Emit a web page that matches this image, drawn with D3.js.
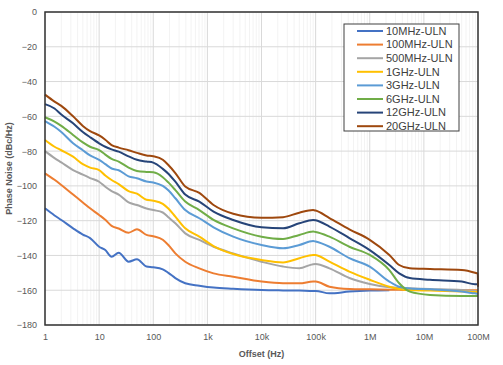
<!DOCTYPE html>
<html><head><meta charset="utf-8">
<script src="https://cdn.jsdelivr.net/npm/d3@7"></script>
<style>body{margin:0;background:#fff}svg{display:block}</style>
</head><body>
<script>
const offsets = [1,1.5,2,3.3,5,6.8,10,13,17,23,35,50,75,100,150,190,256,390,710,1300,3000,10000,25000,50000,90000,100000,180000,420000,1e6,2.3e6,3.5e6,5.5e6,1.3e7,5e7,8.8e7,9.9e7,1e8];
const seriesNames = ["10MHz-ULN","100MHz-ULN","500MHz-ULN","1GHz-ULN","3GHz-ULN","6GHz-ULN","12GHz-ULN","20GHz-ULN"];
const colors = ["#4472C4","#ED7D31","#A5A5A5","#FFC000","#5B9BD5","#70AD47","#264478","#9E480E"];
const s10M  = [-112.9,-117,-119.6,-124.4,-128,-130,-135,-136.9,-140.7,-138.4,-143.6,-142.2,-146.4,-146.8,-148,-150,-153,-156,-157.4,-158.5,-159.2,-159.9,-160.1,-160.2,-160.4,-160.4,-161.8,-160.8,-160.2,-160,null,null,null,null,null,null,null];
const s100M = [-92.8,-96.5,-99.5,-105,-109.5,-112.9,-116.7,-119.5,-123,-124.5,-126.9,-125,-128.2,-129,-131,-134,-138.8,-143.6,-147.4,-150.3,-152.2,-155,-156,-156,-155,-155,-158,-159.3,-159.5,-159.7,-159.8,-159.9,-159.9,-160,-160,-160,-160];
const s500M = [-80,-84,-86.5,-90.9,-93.5,-95.5,-97.6,-100.5,-103,-105,-109.5,-111,-113,-113.9,-115.3,-118,-121.5,-127.3,-131.1,-135,-138.8,-143.6,-146.4,-147.4,-145,-144.9,-147.4,-153,-156.4,-158.3,-158.7,-158.9,-159.3,-159.9,-160.5,-160.8,-160.8];
const s1G   = [-73.6,-77.5,-79.5,-83.2,-87.5,-89.5,-90.9,-94,-96.6,-99,-103,-104.5,-108,-108.5,-110.3,-113,-117.7,-124.4,-129.2,-134.6,-139.2,-142.6,-144,-141.6,-139.7,-139.8,-143.6,-149.3,-154,-158,-159.3,-159.9,-160.2,-160.8,-161,-161,-161];
const s3G   = [-62.7,-66,-69,-75.5,-79.5,-82.5,-85,-87.5,-90,-91,-94.5,-95.6,-97.5,-98,-100,-102.5,-107.1,-113.9,-118.6,-123.8,-129.2,-134,-135.9,-134,-131.7,-132,-135,-141.6,-146.4,-155,-158,-159,-159.5,-160.8,-161.8,-162,-162];
const s6G   = [-60.5,-63,-65.5,-70.7,-75,-77.5,-79.4,-82,-84.5,-86,-89.5,-91.4,-92,-92.2,-95,-98,-102.4,-109,-113.9,-119.6,-124.4,-129.2,-130.5,-128.2,-126.3,-126.5,-129.2,-135,-139.7,-148.4,-156,-160.8,-162.7,-163.3,-163.3,-163.3,-163.3];
const s12G  = [-53,-55.5,-59,-64,-69,-72,-75.5,-77.5,-79,-80.3,-83,-85,-86,-86.6,-90.2,-93,-97.6,-105,-109,-114.8,-119.6,-123.8,-124.4,-121.5,-119.6,-119.8,-123.4,-130,-136.9,-145.5,-150.3,-153,-154,-155,-156.6,-156.6,-156.6];
const s20G  = [-47.5,-51.5,-54,-60,-65.5,-68.5,-71,-73.5,-76.5,-78,-79.5,-81,-82.5,-83,-85,-88,-92.6,-100.4,-104,-111,-116,-118.3,-118,-115.4,-113.9,-114.2,-118.5,-125,-131,-139.7,-145.5,-147.4,-147.8,-148.4,-150,-150.5,-158];
const seriesValues = [s10M,s100M,s500M,s1G,s3G,s6G,s12G,s20G];
const xTickValues = [1,10,100,1e3,1e4,1e5,1e6,1e7,1e8];
const xTickLabels = ["1","10","100","1k","10k","100k","1M","10M","100M"];
const yTickValues = [0,-20,-40,-60,-80,-100,-120,-140,-160,-180];

const W = 503, H = 365;
const m = {left:45, right:25, top:12, bottom:40};
const svg = d3.select("body").append("svg").attr("width",W).attr("height",H);
const x = d3.scaleLog().domain([1,1e8]).range([m.left, W-m.right]);
const y = d3.scaleLinear().domain([-180,0]).range([H-m.bottom, m.top]);

const minor = [];
for (let d=0; d<8; d++) for (let k=2; k<10; k++) minor.push(k*Math.pow(10,d));
svg.append("g").selectAll("line").data(minor).join("line")
  .attr("x1",d=>x(d)).attr("x2",d=>x(d)).attr("y1",y(0)).attr("y2",y(-180))
  .attr("stroke","#f3f3f3").attr("stroke-width",1);
svg.append("g").selectAll("line").data(xTickValues).join("line")
  .attr("x1",d=>x(d)).attr("x2",d=>x(d)).attr("y1",y(0)).attr("y2",y(-180))
  .attr("stroke","#d9d9d9").attr("stroke-width",1);
svg.append("g").selectAll("line").data(yTickValues).join("line")
  .attr("x1",x(1)).attr("x2",x(1e8)).attr("y1",d=>y(d)).attr("y2",d=>y(d))
  .attr("stroke","#d9d9d9").attr("stroke-width",1);

const xAxis = d3.axisBottom(x).tickValues(xTickValues).tickFormat((d,i)=>xTickLabels[i]).tickSize(0).tickPadding(9);
const gx = svg.append("g").attr("transform",`translate(0,${y(-180)})`).call(xAxis);
gx.select(".domain").remove();
gx.selectAll("text").attr("font-family","Liberation Sans, Arial, sans-serif").attr("font-size",9).attr("fill","#595959");
const yAxis = d3.axisLeft(y).tickValues(yTickValues).tickFormat(d3.format("d")).tickSize(0).tickPadding(8);
const gy = svg.append("g").attr("transform",`translate(${x(1)},0)`).call(yAxis);
gy.select(".domain").remove();
gy.selectAll("text").attr("font-family","Liberation Sans, Arial, sans-serif").attr("font-size",9).attr("fill","#595959");

const line = d3.line().defined(d=>d[1]!==null).x(d=>x(d[0])).y(d=>y(d[1])).curve(d3.curveMonotoneX);
seriesValues.forEach((vals,i)=>{
  svg.append("path").datum(offsets.map((o,j)=>[o,vals[j]]))
    .attr("d",line).attr("fill","none").attr("stroke",colors[i]).attr("stroke-width",2)
    .attr("stroke-linejoin","round");
});

svg.append("rect").attr("x",x(1)).attr("y",y(0)).attr("width",x(1e8)-x(1)).attr("height",y(-180)-y(0))
  .attr("fill","none").attr("stroke","#333").attr("stroke-width",1.5);

svg.append("text").attr("x",(x(1)+x(1e8))/2).attr("y",357).attr("text-anchor","middle")
  .attr("font-family","Liberation Sans, Arial, sans-serif").attr("font-size",9).attr("font-weight","bold").attr("fill","#595959")
  .text("Offset (Hz)");
svg.append("text").attr("transform",`translate(12,${(y(0)+y(-180))/2}) rotate(-90)`).attr("text-anchor","middle")
  .attr("font-family","Liberation Sans, Arial, sans-serif").attr("font-size",9).attr("font-weight","bold").attr("fill","#595959")
  .text("Phase Noise (dBc/Hz)");

const lg = svg.append("g");
lg.append("rect").attr("x",344).attr("y",24).attr("width",115).attr("height",107)
  .attr("fill","#fff").attr("stroke","#404040").attr("stroke-width",1);
seriesNames.forEach((n,i)=>{
  const yy = 31 + i*13.6;
  lg.append("line").attr("x1",357).attr("x2",383).attr("y1",yy).attr("y2",yy)
    .attr("stroke",colors[i]).attr("stroke-width",2);
  lg.append("text").attr("x",386).attr("y",yy).attr("dy","0.35em")
    .attr("font-family","Liberation Sans, Arial, sans-serif").attr("font-size",11).attr("fill","#404040").text(n);
});
</script>
</body></html>
